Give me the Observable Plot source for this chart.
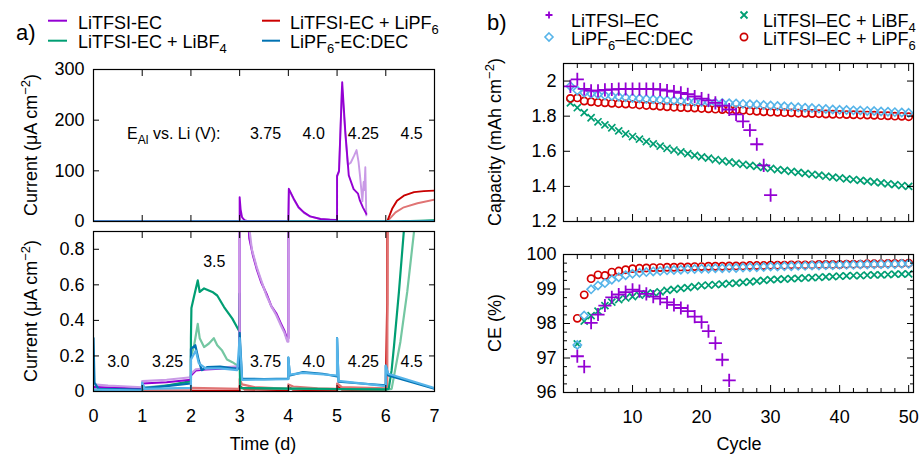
<!DOCTYPE html>
<html><head><meta charset="utf-8">
<script src="https://cdn.jsdelivr.net/npm/d3@7"></script>
<script src="https://cdn.jsdelivr.net/npm/@observablehq/plot@0.6"></script>
<style>
body{margin:0;width:920px;height:455px;position:relative;overflow:hidden;background:#fff;font-family:"Liberation Sans",Arial,sans-serif;}
.p{position:absolute;}
#ov{position:absolute;left:0;top:0;pointer-events:none;}
</style></head><body>
<div id="a1" class="p" style="left:0;top:50px"></div>
<div id="a2" class="p" style="left:0;top:225px"></div>
<div id="b1" class="p" style="left:460px;top:45px"></div>
<div id="b2" class="p" style="left:460px;top:230px"></div>
<svg id="ov" width="920" height="455" font-family="Liberation Sans, Arial, sans-serif" fill="#000">
  <text x="16" y="40" font-size="22">a)</text>
  <line x1="48" x2="67" y1="20.7" y2="20.7" stroke="#9400d3" stroke-width="2"/>
  <text x="78" y="28.5" font-size="18">LiTFSI-EC</text>
  <line x1="48" x2="67" y1="40.7" y2="40.7" stroke="#009e73" stroke-width="2"/>
  <text x="78" y="48" font-size="18">LiTFSI-EC + LiBF<tspan font-size="13" dy="5">4</tspan></text>
  <line x1="262" x2="280" y1="20.7" y2="20.7" stroke="#cc0000" stroke-width="2"/>
  <text x="290" y="28.5" font-size="18">LiTFSI-EC + LiPF<tspan font-size="13" dy="5">6</tspan></text>
  <line x1="262" x2="280" y1="40.7" y2="40.7" stroke="#0072b2" stroke-width="2"/>
  <text x="290" y="48" font-size="18">LiPF<tspan font-size="13" dy="5">6</tspan><tspan dy="-5">-EC:DEC</tspan></text>

  <text x="487" y="30" font-size="22">b)</text>
  <path d="M545.5,15H552.5M549,11.5V18.5" stroke="#9400d3" stroke-width="1.8" fill="none"/>
  <text x="571" y="26.5" font-size="18">LiTFSI–EC</text>
  <path d="M549,33L553,37L549,41L545,37Z" stroke="#56b4e9" stroke-width="1.6" fill="none"/>
  <text x="571" y="45" font-size="18">LiPF<tspan font-size="13" dy="5">6</tspan><tspan dy="-5">–EC:DEC</tspan></text>
  <path d="M740.5,11.5L747.5,18.5M747.5,11.5L740.5,18.5" stroke="#009e73" stroke-width="1.8" fill="none"/>
  <text x="763" y="26.5" font-size="18">LiTFSI–EC + LiBF<tspan font-size="13" dy="5">4</tspan></text>
  <circle cx="744" cy="37" r="3.6" stroke="#cc0000" stroke-width="1.7" fill="none"/>
  <text x="763" y="45" font-size="18">LiTFSI–EC + LiPF<tspan font-size="13" dy="5">6</tspan></text>

  <text transform="translate(37,145) rotate(-90)" text-anchor="middle" font-size="18">Current (μA cm<tspan font-size="13" dy="-7">−2</tspan><tspan dy="7">)</tspan></text>
  <text transform="translate(37,311) rotate(-90)" text-anchor="middle" font-size="18">Current (μA cm<tspan font-size="13" dy="-7">−2</tspan><tspan dy="7">)</tspan></text>
  <text x="263" y="450" text-anchor="middle" font-size="18">Time (d)</text>
  <text transform="translate(501,142) rotate(-90)" text-anchor="middle" font-size="18">Capacity (mAh cm<tspan font-size="13" dy="-7">−2</tspan><tspan dy="7">)</tspan></text>
  <text transform="translate(501,323) rotate(-90)" text-anchor="middle" font-size="18">CE (%)</text>
  <text x="739" y="450" text-anchor="middle" font-size="18">Cycle</text>
</svg>
<script>
// ---------- Panel a: current vs time (days), [t, current µA cm-2] ----------
const dayTicks = [0,1,2,3,4,5,6,7];
const topCurrentTicks = [0,100,200,300];
const bottomCurrentTicks = [0,0.2,0.4,0.6,0.8];

const purpleDark = [[0,0.025],[0.5,0.02],[1,0.015],[1,0.045],[1.5,0.052],[2,0.066],[2,0.09],[2.1,0.118],[2.3,0.124],[2.6,0.128],[2.95,0.134],[3,0.134],[3,48],[3.02,24],[3.05,8],[3.1,2.5],[3.15,1.1],[3.2,0.86],[3.27,0.77],[3.35,0.69],[3.45,0.61],[3.55,0.55],[3.65,0.48],[3.75,0.44],[3.85,0.38],[3.92,0.34],[3.97,0.3],[4,0.3],[4.01,64.5],[4.11,45],[4.21,28],[4.32,18],[4.45,10],[4.66,5],[4.85,3.5],[5,3],[5,90],[5.04,100],[5.105,275],[5.17,176],[5.24,91],[5.34,64],[5.43,55],[5.47,41],[5.53,28],[5.6,15]];
const purpleLight = [[0,0.04],[0.3,0.033],[0.7,0.028],[1,0.024],[1,0.058],[1.5,0.066],[2,0.08],[2,0.1],[2.1,0.125],[2.4,0.132],[2.7,0.136],[2.95,0.142],[3,0.142],[3,1.6],[3.1,1.25],[3.18,0.96],[3.25,0.8],[3.35,0.7],[3.45,0.62],[3.55,0.54],[3.65,0.48],[3.75,0.43],[3.85,0.37],[3.92,0.33],[3.98,0.28],[4,0.28],[4.01,63],[4.11,44],[4.21,27],[4.32,17],[4.45,9.5],[4.66,5],[5,3],[5,88],[5.04,98],[5.1,266],[5.17,172],[5.22,112],[5.28,116],[5.35,130],[5.4,141],[5.44,118],[5.47,91],[5.52,40],[5.545,78],[5.56,62],[5.58,107],[5.6,12]];
const greenDark = [[0,0.008],[1,0.006],[1,0.014],[1.3,0.024],[1.6,0.038],[2,0.058],[2,0.3],[2.01,0.47],[2.06,0.53],[2.14,0.625],[2.18,0.56],[2.27,0.58],[2.44,0.56],[2.54,0.54],[2.68,0.475],[2.85,0.41],[2.95,0.36],[2.99,0.34],[3,0.55],[3.01,0.02],[4,0.016],[5,0.014],[6,0.012],[6.06,0.015],[6.12,0.12],[6.17,0.26],[6.27,0.56],[6.37,0.9],[6.5,1.3],[6.7,1.8],[7,2.4]];
const greenLight = [[0,0.01],[1,0.008],[1,0.02],[1.5,0.034],[2,0.05],[2,0.2],[2.06,0.25],[2.14,0.38],[2.18,0.3],[2.27,0.25],[2.37,0.27],[2.47,0.3],[2.54,0.26],[2.64,0.23],[2.74,0.18],[2.85,0.165],[2.95,0.147],[3,0.14],[3.01,0.018],[6,0.01],[6.12,0.015],[6.3,0.28],[6.44,0.56],[6.58,0.9],[6.8,1.3],[7,1.6]];
const redDark = [[0,0.004],[3,0.004],[3,0.03],[3.1,0.012],[4,0.008],[4,0.025],[4.1,0.01],[5,0.006],[5,0.03],[5.1,0.01],[6,0.006],[6.03,0.5],[6.13,25],[6.23,41],[6.37,51],[6.58,58],[6.78,60],[7,61]];
const redLight = [[0,0.005],[2,0.005],[2,0.02],[3,0.015],[3,0.07],[3.05,0.04],[3.3,0.025],[4,0.015],[4,0.04],[4.1,0.028],[4.6,0.018],[5,0.015],[5,0.045],[5.1,0.025],[6,0.018],[6.03,0.02],[6.04,1.2],[6.2,18],[6.37,28],[6.65,36],[7,43]];
const blueDark = [[0,0.3],[0.02,0.05],[0.1,0.015],[1,0.01],[1,0.04],[1.05,0.02],[1.5,0.03],[2,0.045],[2,0.24],[2.09,0.26],[2.16,0.175],[2.22,0.12],[2.33,0.137],[2.6,0.14],[2.95,0.128],[3,0.128],[3,0.33],[3.05,0.072],[3.5,0.07],[4,0.072],[4,0.19],[4.03,0.09],[4.3,0.109],[4.7,0.1],[5,0.085],[5,0.3],[5.03,0.055],[5.5,0.045],[6,0.035],[6,0.146],[6.05,0.09],[6.5,0.055],[7,0.015]];
const blueLight = [[0,0.01],[1,0.005],[1,0.05],[1.05,0.015],[2,0.02],[2,0.18],[2.1,0.23],[2.16,0.16],[2.3,0.13],[2.6,0.13],[2.95,0.12],[3,0.3],[3.05,0.065],[4,0.07],[4,0.19],[4.03,0.095],[4.3,0.105],[5,0.09],[5,0.3],[5.03,0.06],[6,0.03],[6,0.146],[6.05,0.1],[7,0.02]];

const potentialTitle = "E_Al vs. Li (V):";
const titleT = 0.69, titleV = 172;
const topLabels = ["3.75","4.0","4.25","4.5"];
const topLabelT = [3.53,4.52,5.54,6.53];
const topLabelV = [172,172,172,172];
const bottomLabels = ["3.0","3.25","3.5","3.75","4.0","4.25","4.5"];
const bottomLabelT = [0.51,1.52,2.48,3.53,4.52,5.54,6.53];
const bottomLabelV = [0.165,0.165,0.727,0.165,0.165,0.165,0.165];

// ---------- Panel b: capacity and CE vs cycle ----------
const cycleTicks = [10,20,30,40,50];
const cycleMinorTicks = [2,4,6,8,12,14,16,18,22,24,26,28,32,34,36,38,42,44,46,48];
const capTicks = [1.2,1.4,1.6,1.8,2];
const ceTicks = [96,97,98,99,100];
const ceMinorTicks = [96.25,96.5,96.75,97.25,97.5,97.75,98.25,98.5,98.75,99.25,99.5,99.75];

// capacity, cycles 1..n
const capPurple = [1.97,2.01,1.955,1.945,1.945,1.95,1.952,1.954,1.955,1.955,1.955,1.955,1.954,1.952,1.946,1.94,1.933,1.925,1.912,1.9,1.89,1.876,1.86,1.838,1.81,1.77,1.72,1.64,1.52,1.35];
const capBlue = [1.971,1.946,1.933,1.927,1.923,1.918,1.915,1.911,1.907,1.904,1.901,1.898,1.896,1.893,1.891,1.889,1.887,1.885,1.882,1.88,1.879,1.877,1.875,1.874,1.872,1.87,1.868,1.866,1.863,1.861,1.858,1.856,1.853,1.851,1.848,1.846,1.843,1.841,1.838,1.836,1.835,1.833,1.832,1.83,1.829,1.827,1.825,1.823,1.821,1.819];
const capGreen = [1.876,1.848,1.82,1.791,1.768,1.75,1.734,1.716,1.699,1.684,1.669,1.655,1.642,1.629,1.617,1.607,1.597,1.587,1.577,1.568,1.561,1.553,1.546,1.539,1.532,1.526,1.52,1.514,1.508,1.502,1.496,1.491,1.485,1.48,1.474,1.469,1.464,1.458,1.453,1.448,1.443,1.439,1.434,1.43,1.425,1.42,1.415,1.41,1.405,1.4];
const capRed = [1.901,1.904,1.886,1.882,1.878,1.876,1.873,1.871,1.869,1.867,1.864,1.861,1.859,1.856,1.853,1.851,1.849,1.848,1.846,1.844,1.842,1.84,1.838,1.837,1.835,1.833,1.83,1.828,1.825,1.823,1.822,1.82,1.819,1.817,1.816,1.815,1.814,1.812,1.811,1.81,1.809,1.808,1.807,1.806,1.805,1.803,1.802,1.8,1.799,1.797];

// CE %, cycles 2..n
const cePurple = [97.05,96.75,98.02,98.26,98.52,98.76,98.84,98.91,98.98,98.94,98.86,98.78,98.72,98.61,98.54,98.45,98.36,98.2,98.04,97.78,97.43,96.95,96.35];
const ceBlue = [97.38,98.23,98.99,99.1,99.17,99.27,99.34,99.4,99.44,99.47,99.49,99.51,99.52,99.54,99.55,99.56,99.57,99.58,99.59,99.59,99.6,99.6,99.61,99.61,99.62,99.63,99.63,99.64,99.65,99.65,99.66,99.66,99.67,99.67,99.68,99.68,99.69,99.69,99.7,99.7,99.7,99.71,99.71,99.71,99.72,99.72,99.72,99.73,99.73];
const ceGreen = [97.41,98.07,98.23,98.36,98.52,98.62,98.69,98.74,98.78,98.82,98.86,98.89,98.92,98.96,98.99,99.02,99.04,99.07,99.1,99.11,99.13,99.14,99.16,99.17,99.19,99.21,99.23,99.25,99.27,99.28,99.29,99.3,99.31,99.32,99.33,99.34,99.35,99.36,99.37,99.38,99.39,99.39,99.4,99.41,99.41,99.42,99.43,99.43,99.44];
const ceRed = [98.15,98.83,99.3,99.41,99.39,99.49,99.52,99.56,99.59,99.6,99.61,99.62,99.62,99.63,99.63,99.64,99.64,99.65,99.65,99.66,99.66,99.66,99.67,99.67,99.67,99.68,99.68,99.68,99.69,99.69,99.69,99.7,99.7,99.7,99.7,99.71,99.71,99.71,99.71,99.72,99.72,99.72,99.73,99.73,99.73,99.74,99.74,99.74,99.75];

const C = {purple:"#9400d3", purpleL:"#c99ae6", green:"#009e73", greenL:"#74c7a2", red:"#c80000", redL:"#e07474", blue:"#0072b2", blueL:"#56b4e9", redB:"#d40000"};

const S = {
  redL: {data: redLight, color: C.redL}, red: {data: redDark, color: C.red},
  greenL: {data: greenLight, color: C.greenL}, green: {data: greenDark, color: C.green},
  purpleL: {data: purpleLight, color: C.purpleL}, purple: {data: purpleDark, color: C.purple},
  blue: {data: blueDark, color: C.blue}, blueL: {data: blueLight, color: C.blueL}
};
const topOrder = ["redL","red","greenL","green","purpleL","purple","blue","blueL"];
const bottomOrder = ["red","redL","greenL","green","purple","purpleL","blue","blueL"];

const fmt = d => String(+d.toFixed(2));
const blank = () => "";
const baseStyle = {fontFamily: "'Liberation Sans', Arial, sans-serif", fontSize: "18px", color: "#000", background: "transparent", overflow: "visible"};

function currentPanel(el, yDomain, yTicks, layout, order, labels, lt, lv, showX, withTitle) {
  const marks = order.map(k => Plot.line(S[k].data, {x: d => d[0], y: d => d[1], stroke: S[k].color, strokeWidth: layout.sw, strokeLinejoin: "round", clip: true}));
  const lab = labels.map((s, i) => ({s, t: lt[i], v: lv[i]}));
  marks.push(Plot.text(lab, {x: "t", y: "v", text: "s", fontSize: 16}));
  if (withTitle) marks.push(Plot.text([{s: potentialTitle, t: titleT, v: titleV}], {x: "t", y: "v", text: "s", fontSize: 16, textAnchor: "start"}));
  marks.push(Plot.frame({stroke: "#000", strokeWidth: 1.2}));
  marks.push(Plot.axisY({ticks: yTicks, tickSize: 0, tickPadding: 9, tickFormat: fmt, label: null}));
  marks.push(Plot.axisY({ticks: yTicks, tickSize: -6, tickFormat: blank, label: null}));
  marks.push(Plot.axisY({anchor: "right", ticks: yTicks, tickSize: -6, tickFormat: blank, label: null}));
  marks.push(Plot.axisX({ticks: dayTicks, tickSize: -6, tickFormat: blank, label: null}));
  marks.push(Plot.axisX({anchor: "top", ticks: dayTicks, tickSize: -6, tickFormat: blank, label: null}));
  if (showX) marks.push(Plot.axisX({ticks: dayTicks, tickSize: 0, tickPadding: 18, tickFormat: fmt, label: null}));
  const svg = Plot.plot({
    width: 460, height: layout.h, marginLeft: 93, marginRight: 26, marginTop: layout.mt, marginBottom: layout.mb,
    x: {domain: [0, 7]}, y: {domain: yDomain},
    style: baseStyle, marks
  });
  d3.select(svg).selectAll("text").each(function() {
    if (this.textContent === potentialTitle) {
      const t = d3.select(this); t.text(null);
      t.append("tspan").text("E");
      t.append("tspan").attr("font-size", 12).attr("dy", 5).text("Al");
      t.append("tspan").attr("dy", -5).text(" vs. Li (V):");
    }
  });
  document.getElementById(el).appendChild(svg);
}

currentPanel("a1", [0, 300], topCurrentTicks, {h: 180, mt: 19, mb: 9, sw: 1.9}, topOrder, topLabels, topLabelT, topLabelV, false, true);
currentPanel("a2", [0, 0.9], bottomCurrentTicks, {h: 230, mt: 6, mb: 64, sw: 2.2}, bottomOrder, bottomLabels, bottomLabelT, bottomLabelV, true, false);

function cyclePanel(el, yDomain, yTicks, yMinor, layout, layers, showX) {
  const marks = [...layers];
  marks.push(Plot.frame({stroke: "#000", strokeWidth: 1.2}));
  marks.push(Plot.axisY({ticks: yTicks, tickSize: 0, tickPadding: 7, tickFormat: fmt, label: null}));
  marks.push(Plot.axisY({ticks: yTicks, tickSize: -7, tickFormat: blank, label: null}));
  marks.push(Plot.axisY({anchor: "right", ticks: yTicks, tickSize: -7, tickFormat: blank, label: null}));
  if (yMinor) {
    marks.push(Plot.axisY({ticks: yMinor, tickSize: -4, tickFormat: blank, label: null}));
    marks.push(Plot.axisY({anchor: "right", ticks: yMinor, tickSize: -4, tickFormat: blank, label: null}));
  }
  marks.push(Plot.axisX({ticks: cycleTicks, tickSize: -7, tickFormat: blank, label: null}));
  marks.push(Plot.axisX({anchor: "top", ticks: cycleTicks, tickSize: -7, tickFormat: blank, label: null}));
  marks.push(Plot.axisX({ticks: cycleMinorTicks, tickSize: -4, tickFormat: blank, label: null}));
  marks.push(Plot.axisX({anchor: "top", ticks: cycleMinorTicks, tickSize: -4, tickFormat: blank, label: null}));
  if (showX) marks.push(Plot.axisX({ticks: cycleTicks, tickSize: 0, tickPadding: 18, tickFormat: fmt, label: null}));
  const svg = Plot.plot({
    width: 460, height: layout.h, marginLeft: 103, marginRight: 7, marginTop: layout.mt, marginBottom: layout.mb,
    x: {domain: [0, 50.7]}, y: {domain: yDomain},
    style: baseStyle, marks
  });
  document.getElementById(el).appendChild(svg);
}

const pts = (arr, start) => arr.map((v, i) => ({c: i + start, v}));
const dots = (arr, start, symbol, color, r, sw) => Plot.dot(pts(arr, start), {x: "c", y: "v", symbol, stroke: color, fill: "none", r, strokeWidth: sw, clip: true});

cyclePanel("b1", [1.2, 2.1], capTicks, null, {h: 180, mt: 18, mb: 4}, [
  dots(capGreen, 1, "times", C.green, 3.3, 1.7),
  dots(capRed, 1, "circle", C.redB, 3.6, 1.7),
  dots(capBlue, 1, "diamond2", C.blueL, 3.7, 1.6),
  Plot.line(pts(capPurple, 1).slice(2, 18), {x: "c", y: "v", stroke: C.purple, strokeWidth: 1.2}),
  dots(capPurple, 1, "plus", C.purple, 4.3, 1.8)
], false);

cyclePanel("b2", [96, 100], ceTicks, ceMinorTicks, {h: 225, mt: 24, mb: 63}, [
  dots(ceGreen, 2, "times", C.green, 3.3, 1.7),
  dots(ceRed, 2, "circle", C.redB, 3.6, 1.7),
  dots(ceBlue, 2, "diamond2", C.blueL, 3.7, 1.6),
  dots(cePurple, 2, "plus", C.purple, 4.3, 1.8)
], true);
</script>
</body></html>
